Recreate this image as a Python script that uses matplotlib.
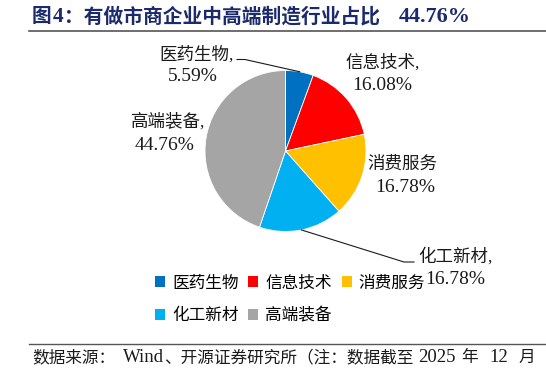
import numpy as np
import matplotlib
matplotlib.use("Agg")
import matplotlib.pyplot as plt
from matplotlib.patches import Patch

plt.rcParams['font.family'] = ['Liberation Serif', 'Noto Sans CJK SC']

# 数据
sectors = ['医药生物', '信息技术', '消费服务', '化工新材', '高端装备']
shares = [5.59, 16.08, 16.78, 16.78, 44.76]
colors = ['#0070C0', '#FF0000', '#FFC000', '#00B0F0', '#A5A5A5']
pct_labels = ['5.59%', '16.08%', '16.78%', '16.78%', '44.76%']
name_labels = ['医药生物,', '信息技术,', '消费服务', '化工新材,', '高端装备,']

W, H = 546, 374
cx, cy, r = 285.5, 151, 80.5  # 饼图中心与半径（像素）

fig = plt.figure(figsize=(W / 100, H / 100), dpi=100)
ax = fig.add_axes([0, 0, 1, 1])

wedges, _ = ax.pie(shares, colors=colors, startangle=90, counterclock=False,
                   radius=1, center=(0, 0), frame=True,
                   wedgeprops=dict(edgecolor='white', linewidth=0.6))
ax.set_xlim(-cx / r, (W - cx) / r)
ax.set_ylim(-(H - cy) / r, cy / r)
ax.axis('off')


def px(x, y):
    return ((x - cx) / r, (cy - y) / r)


# 标签位置（像素）：名称行、百分比行
name_pos = [(197, 55), (383, 63), (402, 165), (455, 257), (168, 122)]
pct_pos = [(193, 76), (382, 85), (405, 187), (455, 279), (165, 145)]
for i in range(len(shares)):
    ax.text(*px(*name_pos[i]), name_labels[i], ha='center', va='center',
            fontsize=12.6, color='#1a1a1a')
    ax.text(*px(*pct_pos[i]), pct_labels[i], ha='center', va='center',
            fontsize=14, color='#1a1a1a')


# 引导线
def mid_point(w):
    a = np.deg2rad((w.theta1 + w.theta2) / 2)
    return np.cos(a), np.sin(a)


mx, my = mid_point(wedges[0])
p1, p2 = px(245, 59.5), px(237, 59.5)
ax.plot([mx, p1[0], p2[0]], [my, p1[1], p2[1]], color='#1a1a1a', lw=0.8)
mx, my = mid_point(wedges[3])
p1, p2 = px(404, 262), px(414, 262)
ax.plot([mx, p1[0], p2[0]], [my, p1[1], p2[1]], color='#1a1a1a', lw=0.8)

renderer = fig.canvas.get_renderer()


def chain_text(x0, y, segs, **kw):
    # 依次排列不同字号的文字片段
    x = x0
    for s, fs, gap in segs:
        t = fig.text(x / W, 1 - y / H, s, fontsize=fs, ha='left', va='center', **kw)
        x = t.get_window_extent(renderer).x1 + gap


# 标题与分隔线
chain_text(32, 17, [('图', 14.2, 1), ('4', 15.5, 1),
                    ('：有做市商企业中高端制造行业占比', 14.2, 18),
                    ('44.76%', 16, 0)],
           fontweight='bold', color='#1a2a6c')
fig.add_artist(plt.Line2D([29 / W, 1], [1 - 31 / H] * 2, color='#555555', lw=1.2))
fig.add_artist(plt.Line2D([29 / W, 1], [1 - 344 / H] * 2, color='#555555', lw=1.0))
chain_text(32, 358, [('数据来源：', 12, 8), ('Wind', 13.5, 0),
                     ('、开源证券研究所（注：数据截至', 12, 5),
                     ('2025', 13.5, 5), ('年', 12, 12), ('12', 13.5, 10),
                     ('月', 12, 0)],
           color='#1a1a1a')

# 图例（按列排序以得到按行的顺序）
handles = [Patch(facecolor=c, edgecolor='none') for c in colors]
order = [0, 3, 1, 4, 2]
fig.legend([handles[i] for i in order], [sectors[i] for i in order],
           ncol=3, loc='center', bbox_to_anchor=(290 / W, 1 - 300 / H),
           frameon=False, fontsize=12, handlelength=0.6, handleheight=0.6,
           handletextpad=0.4, columnspacing=0.6, labelspacing=1.0)

fig.savefig('out.png', dpi=100)
